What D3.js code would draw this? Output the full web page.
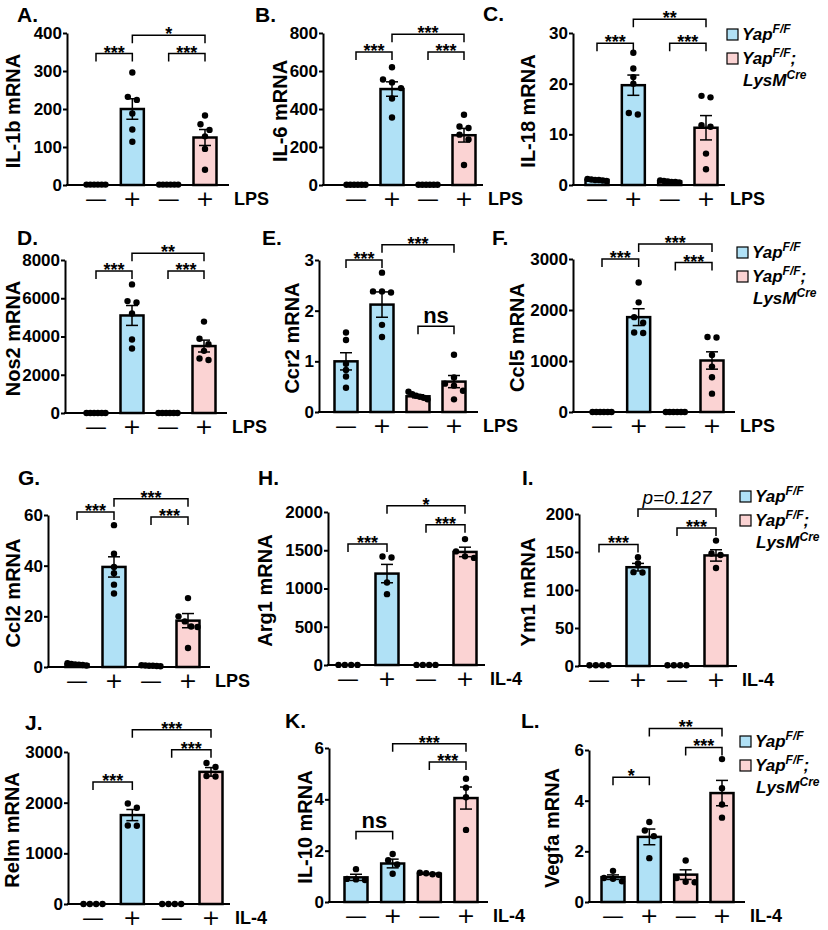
<!DOCTYPE html>
<html>
<head>
<meta charset="utf-8">
<script src="https://cdn.jsdelivr.net/npm/d3@7"></script>
<style>
body { margin: 0; background: #fff; }
svg { display: block; }
text { font-family: Arial, "Liberation Sans", sans-serif; }
</style>
</head>
<body>
<script>
// panel letters, y titles and stimulus per panel
var letters = ["A.", "B.", "C.", "D.", "E.", "F.", "G.", "H.", "I.", "J.", "K.", "L."];
var genes = ["IL-1b mRNA", "IL-6 mRNA", "IL-18 mRNA", "Nos2 mRNA", "Ccr2 mRNA", "Ccl5 mRNA",
             "Ccl2 mRNA", "Arg1 mRNA", "Ym1 mRNA", "Relm mRNA", "IL-10 mRNA", "Vegfa mRNA"];
var stimulus = ["LPS", "LPS", "LPS", "LPS", "LPS", "LPS", "LPS", "IL-4", "IL-4", "IL-4", "IL-4", "IL-4"];
var signs = ["\u2014", "+", "\u2014", "+"];

// y tick values per panel
var yTicks = [
  [0, 100, 200, 300, 400], [0, 200, 400, 600, 800], [0, 10, 20, 30],
  [0, 2000, 4000, 6000, 8000], [0, 1, 2, 3], [0, 1000, 2000, 3000],
  [0, 20, 40, 60], [0, 500, 1000, 1500, 2000], [0, 50, 100, 150, 200],
  [0, 1000, 2000, 3000], [0, 2, 4, 6], [0, 2, 4, 6]
];

// bar means (Yap-, Yap+, cKO-, cKO+)
var means = [
  [1, 200, 1, 125], [1, 505, 1, 262], [1.0, 19.7, 0.7, 11.3],
  [1, 5100, 1, 3500], [1.0, 2.12, 0.31, 0.6], [1, 1860, 1, 1010],
  [1.0, 39.5, 0.5, 18.3], [1, 1195, 1, 1478], [1, 130, 1, 145.5],
  [1, 1755, 1, 2608], [0.96, 1.5, 1.1, 4.05], [0.98, 2.57, 1.08, 4.3]
];

var sems = [
  [0, 27, 0, 21], [0, 38, 0, 36], [0.07, 2.0, 0.08, 2.4],
  [0, 520, 0, 310], [0.17, 0.25, 0.03, 0.12], [0, 165, 0, 170],
  [0.1, 4.0, 0.05, 2.8], [0, 120, 0, 62], [0, 5, 0, 7.5],
  [0, 110, 0, 85], [0.12, 0.17, 0.03, 0.43], [0.09, 0.31, 0.19, 0.5]
];

// individual points
var dots = [
  [[1, 1, 1, 1, 1, 1], [296, 232, 224, 188, 146, 114], [1, 1, 1, 1, 1, 1], [183, 160, 145, 128, 95, 40]],
  [[1, 1, 1, 1, 1, 1], [620, 555, 540, 510, 455, 355], [1, 1, 1, 1, 1, 1], [370, 308, 300, 265, 240, 105]],
  [[1.2, 1.1, 1.0, 1.0, 0.9, 0.8], [26.1, 23, 21.3, 20, 14.2, 13.9], [0.9, 0.8, 0.7, 0.6, 0.6, 0.5], [17.3, 17.6, 11.5, 11.8, 6.2, 3.1]],
  [[1, 1, 1, 1, 1, 1], [6725, 5850, 5780, 5205, 3843, 3370], [1, 1, 1, 1, 1, 1], [4780, 3880, 3600, 3250, 2850, 2770]],
  [[1.57, 1.42, 0.95, 0.83, 0.7, 0.48], [2.75, 2.38, 2.38, 2.36, 1.72, 1.48], [0.4, 0.35, 0.32, 0.3, 0.28, 0.25], [1.13, 0.68, 0.56, 0.52, 0.42, 0.25]],
  [[1, 1, 1, 1, 1, 1], [2540, 2150, 1860, 1750, 1560, 1550], [1, 1, 1, 1, 1, 1], [1470, 1460, 1120, 890, 680, 360]],
  [[1.5, 1.2, 1.0, 0.9, 0.8, 0.6], [56, 44.7, 39.5, 37, 32.5, 29], [0.7, 0.6, 0.5, 0.5, 0.4, 0.3], [27.2, 20, 18, 16, 15.8, 7.5]],
  [[1, 1, 1, 1], [1406, 1419, 1079, 926], [1, 1, 1, 1], [1646, 1485, 1420, 1400]],
  [[1, 1, 1, 1], [143, 135, 123.5, 123], [1, 1, 1, 1], [165, 148, 146, 129]],
  [[1, 1, 1, 1], [1985, 1900, 1550, 1545], [1, 1, 1, 1], [2783, 2705, 2525, 2515]],
  [[1.28, 0.9, 0.88, 0.86], [1.87, 1.63, 1.46, 1.1], [1.14, 1.12, 1.08, 1.06], [4.8, 4.45, 4.08, 2.81]],
  [[1.23, 0.95, 0.92, 0.82], [3.16, 2.82, 2.6, 1.73], [1.64, 0.95, 0.8, 0.78], [5.64, 4.49, 3.85, 3.33]]
];

// significance brackets: from bar, to bar, height (data units), label
var brackets = [
  [[0, 1, 346, "***"], [2, 3, 346, "***"], [1, 3, 394, "*"]],
  [[0, 1, 700, "***"], [2, 3, 700, "***"], [1, 3, 793, "***"]],
  [[0, 1, 28, "***"], [2, 3, 28, "***"], [1, 3, 32.7, "**"]],
  [[0, 1, 7424, "***"], [2, 3, 7424, "***"], [1, 3, 8350, "**"]],
  [[0, 1, 3.0, "***"], [2, 3, 1.69, "ns"], [1, 3, 3.3, "***"]],
  [[0, 1, 3000, "***"], [2, 3, 2929, "***"], [1, 3, 3294, "***"]],
  [[0, 1, 61.2, "***"], [2, 3, 59.2, "***"], [1, 3, 66.4, "***"]],
  [[0, 1, 1581, "***"], [2, 3, 1834, "***"], [1, 3, 2083, "*"]],
  [[0, 1, 160, "***"], [2, 3, 181.5, "***"], [1, 3, 206.6, "p=0.127"]],
  [[0, 1, 2410, "***"], [2, 3, 3045, "***"], [1, 3, 3438, "***"]],
  [[0, 1, 2.75, "ns"], [2, 3, 5.45, "***"], [1, 3, 6.17, "***"]],
  [[0, 1, 4.92, "*"], [2, 3, 6.1, "***"], [1, 3, 6.85, "**"]]
];

var blue = "#b0e1f6", pink = "#fbd3d3";
var barColors = [blue, blue, pink, pink];

// where each panel sits on the page
var layout = [
  {x0: 67, x1: 229, y0: 185, y1: 33, c0: 96, c3: 205, lx: 17, ly: 22, tx: 13},
  {x0: 323, x1: 483, y0: 185, y1: 33, c0: 356, c3: 464, lx: 255, ly: 22, tx: 280},
  {x0: 573, x1: 725, y0: 185, y1: 33, c0: 597, c3: 706, lx: 483, ly: 21, tx: 528},
  {x0: 65, x1: 227, y0: 413, y1: 260, c0: 96, c3: 204, lx: 17, ly: 245, tx: 13},
  {x0: 319, x1: 478, y0: 412, y1: 260, c0: 346, c3: 454, lx: 262, ly: 245, tx: 292},
  {x0: 573, x1: 735, y0: 412, y1: 259, c0: 602, c3: 712, lx: 492, ly: 245, tx: 517},
  {x0: 48, x1: 210, y0: 667, y1: 515, c0: 77, c3: 188, lx: 18, ly: 485, tx: 13},
  {x0: 328, x1: 485, y0: 665, y1: 512, c0: 348, c3: 465, lx: 258, ly: 485, tx: 265},
  {x0: 579, x1: 737, y0: 666, y1: 514, c0: 599, c3: 716, lx: 522, ly: 485, tx: 528},
  {x0: 68, x1: 230, y0: 904, y1: 752, c0: 93, c3: 211, lx: 25, ly: 730, tx: 12},
  {x0: 329, x1: 488, y0: 902, y1: 748, c0: 356, c3: 466, lx: 285, ly: 728, tx: 305},
  {x0: 589, x1: 745, y0: 902, y1: 750, c0: 613, c3: 722, lx: 521, ly: 728, tx: 552}
];
var legendPos = [{x: 727, y: 29}, {x: 737, y: 247}, {x: 740, y: 491}, {x: 740, y: 736}];

var svg = d3.select("body").append("svg").attr("width", 828).attr("height", 930);
var barW = 23;

layout.forEach(function(L, p) {
  var g = svg.append("g");
  var y = d3.scaleLinear().domain([0, d3.max(yTicks[p])]).range([L.y0, L.y1]);
  var x = d3.scalePoint().domain([0, 1, 2, 3]).range([L.c0, L.c3]);

  // bars
  g.selectAll("rect.bar").data(means[p]).enter()
    .filter(function(d) { return L.y0 - y(d) > 1.5; })
    .append("rect")
    .attr("x", function(d, i) { return x(means[p].indexOf(d)) - barW / 2; })
    .attr("y", function(d) { return y(d); })
    .attr("width", barW)
    .attr("height", function(d) { return L.y0 - y(d); })
    .attr("fill", function(d) { return barColors[means[p].indexOf(d)]; })
    .attr("stroke", "#000").attr("stroke-width", 2.5);

  // axes
  var ax = d3.axisLeft(y).tickValues(yTicks[p]).tickSize(4).tickPadding(1)
    .tickSizeOuter(0).tickFormat(d3.format("d"));
  var ag = g.append("g").attr("transform", "translate(" + L.x0 + ",0)").call(ax);
  ag.selectAll("path, line").attr("stroke", "#000").attr("stroke-width", 2);
  ag.selectAll("text").attr("font-size", 17).attr("font-weight", "bold").attr("fill", "#000")
    .style("font-family", "Arial, 'Liberation Sans', sans-serif");
  g.append("line").attr("x1", L.x0 - 1).attr("x2", L.x1).attr("y1", L.y0).attr("y2", L.y0)
    .attr("stroke", "#000").attr("stroke-width", 2);

  // error bars
  means[p].forEach(function(m, i) {
    var s = sems[p][i];
    if (y(m - s) - y(m + s) < 2) return;
    var cx = x(i);
    g.append("line").attr("x1", cx).attr("x2", cx).attr("y1", y(m - s)).attr("y2", y(m + s))
      .attr("stroke", "#000").attr("stroke-width", 1.5);
    [m - s, m + s].forEach(function(v) {
      g.append("line").attr("x1", cx - 6).attr("x2", cx + 6).attr("y1", y(v)).attr("y2", y(v))
        .attr("stroke", "#000").attr("stroke-width", 1.5);
    });
  });

  // dots, spread sideways when they overlap
  dots[p].forEach(function(vals, i) {
    var pts = vals.map(function(v) { return {py: y(v)}; }).sort(function(a, b) { return a.py - b.py; });
    var clusters = [], cur = [];
    pts.forEach(function(pt) {
      if (cur.length && pt.py - cur[cur.length - 1].py > 6) { clusters.push(cur); cur = []; }
      cur.push(pt);
    });
    if (cur.length) clusters.push(cur);
    clusters.forEach(function(c) {
      var n = c.length, sp = n > 1 ? Math.min(9, 19 / (n - 1)) : 0;
      c.forEach(function(pt, k) { pt.px = x(i) + (k - (n - 1) / 2) * sp; });
    });
    g.selectAll(null).data(pts).enter().append("circle")
      .attr("cx", function(d) { return d.px; })
      .attr("cy", function(d) { return d.py; })
      .attr("r", 3.2).attr("fill", "#000");
  });

  // brackets
  brackets[p].forEach(function(b) {
    var xa = x(b[0]), xb = x(b[1]), by = y(b[2]);
    g.append("path").attr("d", "M" + xa + "," + (by + 8) + "V" + by + "H" + xb + "V" + (by + 8))
      .attr("fill", "none").attr("stroke", "#000").attr("stroke-width", 1.5);
    var t = g.append("text").attr("x", (xa + xb) / 2).attr("text-anchor", "middle").text(b[3]);
    if (b[3] == "ns") {
      t.attr("y", by - 3).attr("font-size", 22).attr("font-weight", "bold");
    } else if (b[3].charAt(0) == "p") {
      t.attr("y", by - 5).attr("font-size", 19).attr("font-style", "italic");
    } else {
      t.attr("y", by + 5).attr("font-size", 18).attr("font-weight", "bold");
    }
  });

  // x labels
  signs.forEach(function(s, i) {
    g.append("text").attr("x", x(i)).attr("y", L.y0 + 13)
      .attr("text-anchor", "middle").attr("dominant-baseline", "central")
      .style("font-family", "'DejaVu Sans', sans-serif").attr("fill", "#000")
      .attr("font-size", 22).text(s);
  });
  g.append("text").attr("x", L.x1 + 5).attr("y", L.y0 + 14).attr("dominant-baseline", "central")
    .attr("font-size", 18).attr("font-weight", "bold").text(stimulus[p]);

  // y title and letter
  g.append("text").attr("transform", "translate(" + L.tx + "," + ((L.y0 + L.y1) / 2 + 2) + ") rotate(-90)")
    .attr("text-anchor", "middle").attr("dominant-baseline", "central")
    .attr("font-size", 20).attr("font-weight", "bold").text(genes[p]);
  g.append("text").attr("x", L.lx).attr("y", L.ly).attr("font-size", 21).attr("font-weight", "bold")
    .text(letters[p]);
});

// legends
legendPos.forEach(function(lp) {
  var lg = svg.append("g").attr("transform", "translate(" + lp.x + "," + lp.y + ")");
  [blue, pink].forEach(function(c, i) {
    lg.append("rect").attr("x", 0).attr("y", i * 24).attr("width", 11).attr("height", 11)
      .attr("fill", c).attr("stroke", "#000").attr("stroke-width", 1.2);
  });
  var t1 = lg.append("text").attr("x", 15).attr("y", 11).attr("font-size", 17)
    .attr("font-weight", "bold").attr("font-style", "italic");
  t1.append("tspan").text("Yap");
  t1.append("tspan").attr("dy", -7).attr("font-size", 12).text("F/F");
  var t2 = lg.append("text").attr("x", 15).attr("y", 35).attr("font-size", 17)
    .attr("font-weight", "bold").attr("font-style", "italic");
  t2.append("tspan").text("Yap");
  t2.append("tspan").attr("dy", -7).attr("font-size", 12).text("F/F");
  t2.append("tspan").attr("dy", 7).text(";");
  var t3 = lg.append("text").attr("x", 16).attr("y", 57).attr("font-size", 17)
    .attr("font-weight", "bold").attr("font-style", "italic");
  t3.append("tspan").text("LysM");
  t3.append("tspan").attr("dy", -7).attr("font-size", 12).text("Cre");
});
</script>
</body>
</html>
